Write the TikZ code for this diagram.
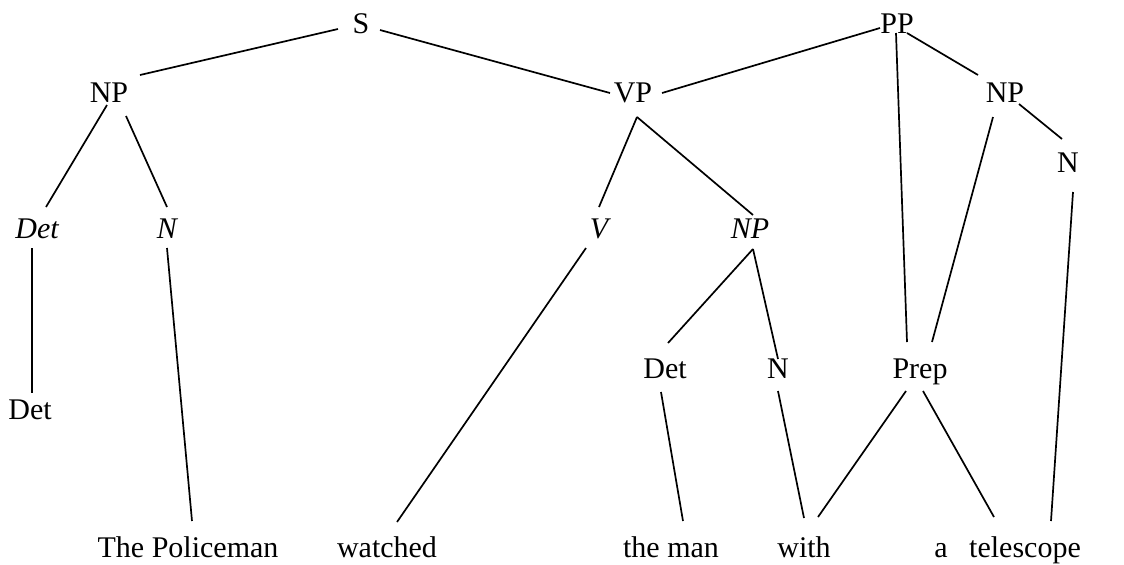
\documentclass[tikz,border=0pt]{standalone}
\usepackage{fontspec}
\setmainfont{Liberation Serif}
% one unit = one pixel of the 1124 x 564 canvas, y grows downwards
\tikzset{
  x=0.5pt, y=-0.5pt,
  lbl/.style={anchor=base, inner sep=0pt, font=\fontsize{15}{18}\selectfont},
  ilbl/.style={lbl, font=\fontsize{15}{18}\selectfont\itshape},
  branch/.style={line width=0.85pt},
  thickbranch/.style={line width=1.45pt}
}
% branch between two labels, each end given as an offset from the label's base point
\newcommand\treelink[5][branch]{\draw[#1] ([shift={#3}]#2.base) -- ([shift={#5}]#4.base);}
\begin{document}
\begin{tikzpicture}
\useasboundingbox (0,0) rectangle (1124,564);

% category labels
\node[lbl]  (S)    at (361,33)  {S};
\node[lbl]  (PP)   at (897,33)  {PP};
\node[lbl]  (NPa)  at (109,102) {NP};
\node[lbl]  (VP)   at (633,102) {VP};
\node[lbl]  (NPb)  at (1005,102) {NP};
\node[lbl]  (Nb)   at (1068,172) {N};
\node[ilbl] (DetI) at (37,238)  {Det};
\node[ilbl] (NI)   at (167,238) {N};
\node[ilbl] (VI)   at (599,238) {V};
\node[ilbl] (NPI)  at (750,238) {NP};
\node[lbl]  (DetB) at (665,378) {Det};
\node[lbl]  (NB)   at (778,378) {N};
\node[lbl]  (Prep) at (920,378) {Prep};
\node[lbl]  (DetA) at (30,419)  {Det};

% words
\node[lbl] (wPol)  at (188,557)  {The Policeman};
\node[lbl] (wWat)  at (387,557)  {watched};
\node[lbl] (wMan)  at (671,557)  {the man};
\node[lbl] (wWith) at (804,557)  {with};
\node[lbl] (wA)    at (941,557)  {a};
\node[lbl] (wTel)  at (1025,557) {telescope};

% branches
\treelink{S}{(-23,-4)}{NPa}{(31,-27)}
\treelink{S}{(19,-3)}{VP}{(-23,-9)}
\treelink{VP}{(29,-9)}{PP}{(-17,-5)}
\treelink{PP}{(-1,0)}{Prep}{(-13,-36)}
\treelink{PP}{(10,0)}{NPb}{(-27,-27)}
\treelink{NPb}{(-12,15)}{Prep}{(12,-36)}
\treelink{NPb}{(14,2)}{Nb}{(-6,-33)}
\treelink{Nb}{(5,20)}{wTel}{(26,-36)}
\treelink{NPa}{(-2,3)}{DetI}{(9,-31)}
\treelink{NPa}{(17,14)}{NI}{(0,-31)}
\treelink[thickbranch]{DetI}{(-5,10)}{DetA}{(2,-26)}
\treelink{NI}{(0,10)}{wPol}{(4,-36)}
\treelink{VP}{(4,15)}{VI}{(0,-31)}
\treelink{VP}{(4,15)}{NPI}{(3,-23)}
\treelink{VI}{(-13,10)}{wWat}{(10,-35)}
\treelink{NPI}{(3,11)}{DetB}{(3,-35)}
\treelink{NPI}{(3,11)}{NB}{(0,-19)}
\treelink{DetB}{(-4,14)}{wMan}{(12,-36)}
\treelink{NB}{(0,13)}{wWith}{(0,-39)}
\treelink{Prep}{(-14,13)}{wWith}{(14,-40)}
\treelink{Prep}{(3,13)}{wTel}{(-31,-40)}
\end{tikzpicture}
\end{document}
